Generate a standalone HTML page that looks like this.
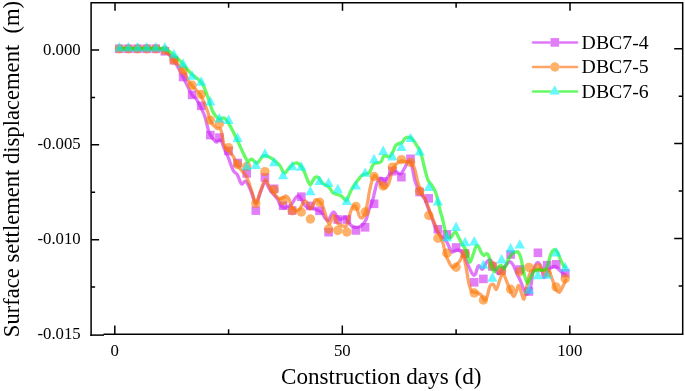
<!DOCTYPE html><html><head><meta charset="utf-8"><title>Surface settlement displacement</title><style>html,body{margin:0;padding:0;background:#fff}body{width:685px;height:391px;overflow:hidden;position:relative}</style></head><body><svg width="685" height="391" viewBox="0 0 685 391" style="position:absolute;left:0;top:0">
<path d="M119.4 49.0C121.2 49.0 125.7 49.0 130.0 49.0C134.3 49.0 140.3 49.0 145.0 49.0C149.7 49.0 154.7 48.7 158.0 49.0C161.3 49.3 162.3 49.1 165.0 51.0C167.7 52.9 171.0 56.2 174.0 60.5C177.0 64.8 180.0 71.2 183.0 77.0C186.0 82.8 189.8 91.4 192.0 95.0C194.2 98.6 194.0 95.4 196.1 98.7C198.2 102.0 202.1 109.2 204.3 115.0C206.5 120.8 207.5 129.0 209.4 133.4C211.3 137.8 214.1 140.4 215.6 141.6C217.1 142.8 217.8 140.8 218.7 140.6C219.6 140.4 220.0 139.0 221.1 140.7C222.2 142.4 224.0 148.2 225.2 150.9C226.4 153.7 226.8 153.9 228.1 157.2C229.4 160.5 231.7 167.6 233.2 170.5C234.7 173.4 235.9 172.4 237.3 174.6C238.7 176.8 240.0 182.7 241.4 183.8C242.8 185.0 244.3 180.1 246.0 181.5C247.7 182.9 249.8 188.2 251.4 192.0C253.1 195.8 254.4 204.2 255.9 204.2C257.4 204.2 258.9 195.7 260.5 192.0C262.1 188.3 263.7 182.3 265.3 182.0C266.9 181.7 268.0 187.2 270.0 190.0C272.0 192.8 275.8 196.6 277.5 199.0C279.2 201.4 278.9 203.0 280.0 204.5C281.1 206.0 282.6 207.4 283.9 207.8C285.2 208.2 286.4 207.3 287.7 206.7C289.0 206.1 290.4 205.4 291.6 204.1C292.8 202.8 293.8 200.3 294.8 199.0C295.8 197.7 296.5 196.2 297.5 196.0C298.5 195.8 299.6 196.3 300.6 197.7C301.7 199.0 302.7 202.5 303.8 204.1C304.9 205.7 305.8 206.6 307.0 207.3C308.2 208.0 309.5 207.9 310.8 208.2C312.1 208.5 313.4 208.7 314.7 209.1C316.0 209.5 317.2 209.9 318.5 210.6C319.8 211.3 321.3 212.1 322.4 213.3C323.5 214.6 324.0 216.9 325.0 218.1C326.0 219.3 327.1 221.2 328.2 220.6C329.3 220.0 330.4 215.8 331.4 214.4C332.4 213.0 333.1 211.8 334.0 212.0C334.9 212.2 335.6 214.5 336.5 215.7C337.4 216.9 338.6 219.0 339.7 219.4C340.8 219.8 341.9 218.7 342.9 218.3C343.9 217.9 344.6 216.6 345.5 217.2C346.4 217.8 347.0 220.6 348.1 222.1C349.2 223.6 350.4 225.1 351.9 226.0C353.4 226.9 355.4 227.5 357.1 227.3C358.8 227.1 360.7 226.2 362.2 224.9C363.7 223.6 365.0 221.8 366.1 219.5C367.2 217.2 367.5 214.1 368.6 210.9C369.7 207.7 371.4 204.8 372.7 200.3C374.0 195.8 375.3 187.7 376.7 184.0C378.1 180.3 379.4 178.6 380.8 178.2C382.2 177.8 383.4 182.0 384.9 181.3C386.4 180.6 388.3 175.7 390.0 174.0C391.7 172.3 393.5 171.2 395.2 171.2C396.9 171.2 398.8 174.4 400.3 174.0C401.8 173.6 403.1 170.6 404.4 168.5C405.7 166.4 406.8 162.2 408.0 161.5C409.2 160.8 410.3 161.2 411.5 164.5C412.7 167.8 413.6 176.3 415.0 181.0C416.4 185.7 418.4 189.5 420.0 192.5C421.6 195.5 423.2 196.2 424.7 199.0C426.1 201.8 427.3 205.7 428.7 209.4C430.1 213.1 431.7 217.8 433.0 221.3C434.3 224.8 435.4 228.1 436.6 230.5C437.9 232.9 438.8 233.7 440.5 235.5C442.2 237.3 444.7 238.9 446.6 241.6C448.5 244.3 449.8 250.4 451.7 251.8C453.6 253.2 456.1 249.5 457.9 249.8C459.7 250.1 461.0 251.0 462.7 253.4C464.4 255.8 466.2 261.1 467.8 264.5C469.4 267.9 471.2 272.4 472.5 274.0C473.8 275.6 474.3 275.8 475.3 274.4C476.3 273.0 477.2 266.6 478.4 265.8C479.6 265.0 481.0 269.9 482.4 269.3C483.8 268.7 485.1 263.8 486.5 262.3C487.9 260.8 489.2 259.1 490.7 260.3C492.1 261.5 493.9 267.1 495.2 269.3C496.5 271.6 497.4 273.6 498.5 273.8C499.6 274.0 500.3 272.2 501.7 270.6C503.1 269.0 505.4 265.6 506.8 264.1C508.2 262.6 508.9 261.5 510.0 261.6C511.1 261.8 512.0 262.9 513.2 265.0C514.4 267.1 515.8 271.2 517.1 274.0C518.4 276.8 519.7 279.0 520.9 281.8C522.1 284.6 523.2 288.6 524.3 290.6C525.4 292.7 526.3 294.6 527.3 294.1C528.3 293.6 529.5 291.4 530.5 287.7C531.5 284.0 531.9 276.2 533.0 272.0C534.1 267.8 535.9 263.4 537.3 262.6C538.6 261.8 540.0 264.6 541.1 267.1C542.2 269.6 542.9 276.3 543.7 277.4C544.6 278.5 545.1 275.0 546.2 273.5C547.3 272.0 548.6 269.6 550.1 268.4C551.6 267.2 553.7 266.3 555.2 266.5C556.7 266.7 557.8 268.5 559.1 269.7C560.4 270.9 561.9 272.6 563.0 273.5C564.1 274.4 565.1 274.6 565.5 274.8" fill="none" stroke="rgb(203,30,243)" stroke-width="3.3" stroke-linejoin="round" stroke-linecap="round" stroke-opacity="0.6"/><g fill="rgb(205,40,244)" fill-opacity="0.6"><rect x="115.0" y="44.5" width="8.6" height="8.6"/><rect x="124.1" y="44.5" width="8.6" height="8.6"/><rect x="133.2" y="44.5" width="8.6" height="8.6"/><rect x="142.3" y="44.5" width="8.6" height="8.6"/><rect x="151.4" y="44.5" width="8.6" height="8.6"/><rect x="160.5" y="47.0" width="8.6" height="8.6"/><rect x="169.6" y="55.9" width="8.6" height="8.6"/><rect x="178.8" y="72.7" width="8.6" height="8.6"/><rect x="187.8" y="90.6" width="8.6" height="8.6"/><rect x="196.9" y="101.5" width="8.6" height="8.6"/><rect x="206.0" y="130.8" width="8.6" height="8.6"/><rect x="215.1" y="133.3" width="8.6" height="8.6"/><rect x="224.2" y="146.7" width="8.6" height="8.6"/><rect x="233.3" y="158.7" width="8.6" height="8.6"/><rect x="242.4" y="169.1" width="8.6" height="8.6"/><rect x="251.5" y="206.3" width="8.6" height="8.6"/><rect x="260.6" y="173.2" width="8.6" height="8.6"/><rect x="269.8" y="184.5" width="8.6" height="8.6"/><rect x="278.8" y="201.4" width="8.6" height="8.6"/><rect x="287.9" y="206.2" width="8.6" height="8.6"/><rect x="297.0" y="192.4" width="8.6" height="8.6"/><rect x="306.1" y="201.6" width="8.6" height="8.6"/><rect x="315.2" y="206.5" width="8.6" height="8.6"/><rect x="324.3" y="227.9" width="8.6" height="8.6"/><rect x="333.4" y="215.2" width="8.6" height="8.6"/><rect x="342.5" y="215.2" width="8.6" height="8.6"/><rect x="351.6" y="226.1" width="8.6" height="8.6"/><rect x="360.8" y="223.0" width="8.6" height="8.6"/><rect x="369.8" y="199.5" width="8.6" height="8.6"/><rect x="378.9" y="177.1" width="8.6" height="8.6"/><rect x="388.1" y="166.9" width="8.6" height="8.6"/><rect x="397.1" y="172.9" width="8.6" height="8.6"/><rect x="406.2" y="154.5" width="8.6" height="8.6"/><rect x="415.3" y="187.7" width="8.6" height="8.6"/><rect x="424.4" y="194.1" width="8.6" height="8.6"/><rect x="433.6" y="225.0" width="8.6" height="8.6"/><rect x="442.6" y="230.1" width="8.6" height="8.6"/><rect x="451.8" y="243.2" width="8.6" height="8.6"/><rect x="460.8" y="249.2" width="8.6" height="8.6"/><rect x="469.9" y="278.0" width="8.6" height="8.6"/><rect x="479.1" y="274.6" width="8.6" height="8.6"/><rect x="488.1" y="262.2" width="8.6" height="8.6"/><rect x="497.2" y="266.2" width="8.6" height="8.6"/><rect x="506.3" y="250.2" width="8.6" height="8.6"/><rect x="515.5" y="265.2" width="8.6" height="8.6"/><rect x="524.6" y="287.2" width="8.6" height="8.6"/><rect x="533.6" y="248.5" width="8.6" height="8.6"/><rect x="542.8" y="260.9" width="8.6" height="8.6"/><rect x="551.9" y="260.0" width="8.6" height="8.6"/><rect x="561.0" y="268.9" width="8.6" height="8.6"/></g>
<path d="M119.4 49.0C121.2 49.0 125.7 49.0 130.0 49.0C134.3 49.0 140.3 49.0 145.0 49.0C149.7 49.0 154.7 48.8 158.0 49.0C161.3 49.2 162.4 48.7 165.0 50.5C167.6 52.3 170.8 56.8 173.8 60.0C176.8 63.2 180.1 66.1 182.8 70.0C185.5 73.9 187.1 79.2 190.0 83.3C192.9 87.4 197.3 90.0 200.2 94.6C203.1 99.2 205.7 106.5 207.4 110.9C209.1 115.3 209.0 118.3 210.5 121.2C212.0 124.1 214.9 126.9 216.6 128.3C218.3 129.7 219.5 126.8 220.7 129.4C221.9 132.0 222.8 140.5 223.8 143.7C224.8 146.9 225.2 146.7 226.8 148.8C228.4 150.9 231.4 153.3 233.2 156.1C234.9 158.9 235.1 162.0 237.3 165.4C239.5 168.8 243.9 172.3 246.3 176.6C248.7 180.8 250.0 186.5 251.6 190.9C253.2 195.3 254.4 203.2 255.9 203.2C257.4 203.2 259.0 194.8 260.6 190.9C262.2 187.0 263.7 180.2 265.3 179.7C266.9 179.2 268.1 185.0 270.0 187.9C271.9 190.8 275.3 195.2 277.0 197.0C278.7 198.8 279.0 198.7 280.0 198.8C281.0 198.9 282.1 198.2 283.2 197.7C284.3 197.2 285.4 195.8 286.4 196.0C287.4 196.2 288.1 197.2 289.0 199.0C289.9 200.8 290.5 204.6 291.6 206.5C292.7 208.4 294.1 210.1 295.4 210.6C296.7 211.1 298.1 210.4 299.3 209.3C300.5 208.2 301.5 205.5 302.5 204.1C303.5 202.7 304.2 201.1 305.1 201.0C306.0 200.9 306.8 202.2 307.6 203.5C308.5 204.8 309.3 208.8 310.2 209.1C311.1 209.4 311.9 206.9 312.8 205.4C313.7 203.9 314.4 200.6 315.3 199.8C316.2 199.1 317.3 200.0 318.5 200.9C319.7 201.8 321.3 203.4 322.4 205.4C323.5 207.4 324.0 210.2 325.0 213.1C326.0 216.0 327.3 220.9 328.2 222.6C329.1 224.3 329.4 224.1 330.1 223.2C330.9 222.3 331.9 218.2 332.7 217.0C333.4 215.8 334.0 215.1 334.6 215.9C335.2 216.8 335.6 220.6 336.5 222.1C337.4 223.6 338.4 224.0 339.7 224.7C341.0 225.4 343.0 226.3 344.2 226.4C345.4 226.5 345.9 226.9 346.8 225.1C347.7 223.3 348.5 218.5 349.4 215.7C350.3 212.8 351.1 209.7 352.0 208.0C352.9 206.3 353.6 205.4 354.5 205.6C355.4 205.8 356.2 207.4 357.1 209.3C358.0 211.2 358.7 215.5 359.7 216.8C360.7 218.2 361.9 218.2 362.9 217.4C363.8 216.6 364.6 214.2 365.4 211.8C366.2 209.4 366.8 206.6 367.5 203.0C368.2 199.4 368.6 195.0 369.6 190.5C370.6 186.0 372.2 177.8 373.7 176.1C375.2 174.4 377.2 178.6 378.8 180.5C380.4 182.4 381.8 186.9 383.4 187.5C385.0 188.1 387.0 187.0 388.5 184.0C390.0 181.0 391.3 172.8 392.6 169.5C393.9 166.2 394.8 165.4 396.2 164.0C397.6 162.6 399.6 161.2 401.3 160.9C403.0 160.6 404.7 161.7 406.4 162.0C408.1 162.3 410.0 161.4 411.4 162.7C412.8 164.0 413.9 166.6 415.0 170.0C416.1 173.4 416.9 179.2 418.0 183.0C419.1 186.8 420.2 190.2 421.5 193.0C422.8 195.8 424.2 197.0 425.6 200.1C427.0 203.2 428.5 208.2 429.7 211.4C430.9 214.6 431.6 215.9 433.0 219.3C434.4 222.7 436.6 228.3 438.2 232.0C439.8 235.7 441.3 237.9 442.5 241.6C443.7 245.3 444.5 250.8 445.5 254.0C446.5 257.2 447.3 258.8 448.5 261.0C449.7 263.2 451.0 267.2 452.8 267.3C454.6 267.4 457.6 263.5 459.3 261.6C461.0 259.7 462.0 255.4 463.1 256.0C464.2 256.6 464.7 260.8 465.7 265.4C466.7 270.0 467.9 279.1 468.9 283.4C469.9 287.7 470.3 289.6 471.5 291.1C472.7 292.6 474.4 291.8 476.0 292.4C477.6 293.0 479.7 293.6 481.1 295.0C482.5 296.4 483.5 300.2 484.5 300.5C485.5 300.8 486.1 299.3 487.0 297.0C487.9 294.7 488.8 288.6 489.8 286.5C490.9 284.4 492.2 283.8 493.3 284.3C494.4 284.8 495.3 290.1 496.4 289.3C497.5 288.6 498.7 282.4 499.8 279.8C500.9 277.2 502.0 273.6 503.2 274.0C504.4 274.4 505.6 279.1 506.9 282.0C508.2 284.9 509.7 288.9 510.8 291.3C511.9 293.7 512.9 296.5 513.8 296.5C514.7 296.5 515.5 293.3 516.3 291.5C517.1 289.7 517.9 285.1 518.8 285.5C519.7 285.9 520.8 291.6 521.7 293.9C522.6 296.1 523.2 300.0 524.0 299.0C524.8 298.0 525.6 291.9 526.6 287.7C527.6 283.5 528.6 276.5 529.8 273.6C531.0 270.7 532.2 271.1 533.7 270.4C535.2 269.6 537.1 269.1 538.8 269.1C540.5 269.1 542.3 270.0 544.0 270.4C545.7 270.8 547.6 269.8 549.1 271.6C550.6 273.4 551.9 278.4 553.0 281.3C554.1 284.2 554.4 287.2 555.5 289.0C556.6 290.8 558.1 292.7 559.4 292.2C560.7 291.7 562.1 287.8 563.2 285.8C564.3 283.8 565.4 281.0 565.8 280.0" fill="none" stroke="rgb(250,105,0)" stroke-width="3.3" stroke-linejoin="round" stroke-linecap="round" stroke-opacity="0.6"/><g fill="rgb(252,125,5)" fill-opacity="0.6"><circle cx="119.3" cy="48.8" r="4.7"/><circle cx="128.4" cy="48.8" r="4.7"/><circle cx="137.6" cy="48.8" r="4.7"/><circle cx="146.7" cy="48.8" r="4.7"/><circle cx="155.8" cy="48.8" r="4.7"/><circle cx="164.8" cy="50.3" r="4.7"/><circle cx="173.9" cy="60.3" r="4.7"/><circle cx="183.1" cy="70.5" r="4.7"/><circle cx="192.1" cy="85.2" r="4.7"/><circle cx="201.2" cy="94.5" r="4.7"/><circle cx="210.3" cy="120.1" r="4.7"/><circle cx="219.4" cy="123.8" r="4.7"/><circle cx="228.6" cy="147.7" r="4.7"/><circle cx="237.6" cy="164.5" r="4.7"/><circle cx="246.8" cy="166.5" r="4.7"/><circle cx="255.8" cy="203.5" r="4.7"/><circle cx="264.9" cy="171.6" r="4.7"/><circle cx="274.1" cy="189.8" r="4.7"/><circle cx="283.1" cy="200.5" r="4.7"/><circle cx="292.2" cy="210.8" r="4.7"/><circle cx="301.3" cy="212.0" r="4.7"/><circle cx="310.4" cy="219.0" r="4.7"/><circle cx="319.6" cy="202.2" r="4.7"/><circle cx="328.6" cy="229.0" r="4.7"/><circle cx="337.8" cy="230.5" r="4.7"/><circle cx="346.8" cy="232.0" r="4.7"/><circle cx="355.9" cy="206.4" r="4.7"/><circle cx="365.1" cy="212.0" r="4.7"/><circle cx="374.1" cy="176.5" r="4.7"/><circle cx="383.2" cy="186.0" r="4.7"/><circle cx="392.4" cy="167.1" r="4.7"/><circle cx="401.4" cy="159.6" r="4.7"/><circle cx="410.6" cy="162.4" r="4.7"/><circle cx="419.6" cy="191.0" r="4.7"/><circle cx="428.8" cy="215.5" r="4.7"/><circle cx="437.9" cy="238.3" r="4.7"/><circle cx="446.9" cy="253.3" r="4.7"/><circle cx="456.1" cy="267.3" r="4.7"/><circle cx="465.1" cy="253.9" r="4.7"/><circle cx="474.2" cy="293.0" r="4.7"/><circle cx="483.4" cy="300.0" r="4.7"/><circle cx="492.4" cy="265.6" r="4.7"/><circle cx="501.6" cy="271.0" r="4.7"/><circle cx="510.6" cy="289.3" r="4.7"/><circle cx="519.8" cy="271.8" r="4.7"/><circle cx="528.9" cy="267.4" r="4.7"/><circle cx="537.9" cy="267.9" r="4.7"/><circle cx="547.0" cy="273.0" r="4.7"/><circle cx="556.1" cy="287.0" r="4.7"/><circle cx="565.2" cy="278.7" r="4.7"/></g>
<path d="M119.4 48.5C121.2 48.5 125.7 48.5 130.0 48.5C134.3 48.5 140.0 48.5 145.0 48.5C150.0 48.5 156.4 48.4 160.0 48.5C163.6 48.6 164.0 48.2 166.4 49.4C168.8 50.6 171.9 53.2 174.6 55.6C177.3 58.0 180.1 60.8 182.8 63.8C185.5 66.8 188.3 70.8 191.0 73.5C193.7 76.2 197.0 78.0 199.1 80.1C201.2 82.2 201.9 82.9 203.5 86.0C205.1 89.1 206.9 94.5 208.4 98.7C209.9 102.9 210.8 107.6 212.5 110.9C214.2 114.2 216.7 117.3 218.7 118.5C220.7 119.7 222.6 116.9 224.5 118.2C226.4 119.5 228.2 122.7 230.4 126.4C232.6 130.2 235.3 136.1 237.5 140.7C239.7 145.3 242.0 150.6 243.7 154.0C245.4 157.4 246.3 160.3 247.7 161.2C249.0 162.0 250.2 158.8 251.8 159.1C253.4 159.4 255.1 163.7 257.0 163.2C258.9 162.7 261.1 157.0 263.1 156.0C265.1 155.0 267.1 156.2 269.2 157.1C271.2 158.0 273.6 159.8 275.4 161.2C277.2 162.6 278.8 164.2 280.0 165.8C281.2 167.4 281.8 169.8 282.6 171.0C283.5 172.2 284.0 173.4 285.1 172.9C286.2 172.4 287.7 169.4 289.0 168.0C290.3 166.6 291.5 165.1 292.8 164.3C294.1 163.5 295.4 162.8 296.7 163.0C298.0 163.2 299.3 164.1 300.6 165.6C301.9 167.1 303.2 169.6 304.4 172.0C305.6 174.4 306.6 178.0 307.6 180.2C308.6 182.4 309.3 184.9 310.2 185.0C311.1 185.1 311.9 182.1 312.8 180.8C313.7 179.5 314.4 177.7 315.3 177.2C316.2 176.7 317.3 176.8 318.5 177.8C319.7 178.8 321.1 181.9 322.4 183.2C323.7 184.4 324.9 184.4 326.2 185.3C327.5 186.2 329.0 187.2 330.1 188.5C331.2 189.8 331.8 191.8 332.9 192.8C334.0 193.8 335.1 193.8 336.5 194.3C337.9 194.8 339.6 195.0 341.0 195.8C342.4 196.6 343.6 198.6 344.6 199.3C345.6 200.0 345.9 201.3 346.8 200.2C347.7 199.1 348.9 194.9 350.0 192.6C351.1 190.3 351.8 188.8 353.2 186.6C354.6 184.4 356.9 181.4 358.4 179.5C359.9 177.6 360.8 176.1 362.2 175.2C363.6 174.2 365.3 174.3 366.5 173.8C367.7 173.3 368.4 173.8 369.6 172.2C370.8 170.6 371.8 165.7 373.7 164.0C375.6 162.3 379.1 163.4 380.8 162.0C382.5 160.6 382.5 156.7 383.9 155.8C385.3 154.9 387.4 157.6 389.0 156.8C390.6 156.0 392.3 152.7 393.4 150.8C394.5 148.9 394.7 146.8 395.5 145.6C396.3 144.4 397.3 144.3 398.4 143.7C399.5 143.1 401.2 143.0 402.2 142.2C403.2 141.4 403.7 139.6 404.5 138.8C405.3 138.0 405.8 137.5 406.8 137.3C407.8 137.1 409.6 137.0 410.7 137.6C411.8 138.2 412.7 139.4 413.7 140.7C414.7 142.0 415.8 143.8 416.8 145.6C417.8 147.3 419.0 149.1 419.9 151.2C420.8 153.3 421.4 155.0 422.2 158.0C423.0 161.0 423.8 165.3 424.8 169.0C425.8 172.7 426.8 177.2 428.0 180.0C429.2 182.8 430.8 183.5 432.0 185.5C433.2 187.5 434.5 189.4 435.5 192.0C436.5 194.6 437.2 197.9 438.0 201.2C438.8 204.5 439.7 209.0 440.5 212.0C441.3 215.0 441.9 216.1 442.6 219.0C443.3 221.9 444.1 226.3 444.9 229.3C445.7 232.3 446.5 235.6 447.5 237.0C448.5 238.4 449.4 238.5 450.7 237.6C452.0 236.7 453.9 231.9 455.2 231.8C456.5 231.7 457.2 234.8 458.4 237.0C459.6 239.2 461.0 242.5 462.3 244.7C463.6 246.9 465.1 247.9 466.0 250.0C466.9 252.1 467.3 255.5 468.0 257.5C468.7 259.5 469.3 262.6 470.2 262.0C471.1 261.4 472.4 256.5 473.4 253.9C474.4 251.3 475.1 247.7 476.0 246.5C476.9 245.3 477.7 245.6 478.5 246.5C479.3 247.4 480.1 250.5 481.0 252.0C481.9 253.5 482.8 255.2 483.7 255.5C484.6 255.8 485.8 253.6 486.7 253.7C487.6 253.8 488.1 254.3 488.8 256.0C489.5 257.7 490.0 261.5 490.9 264.1C491.8 266.7 492.9 271.3 494.0 271.8C495.1 272.3 496.5 268.2 497.8 267.2C499.1 266.1 500.6 265.3 501.7 265.5C502.8 265.7 503.5 269.4 504.5 268.6C505.5 267.8 506.5 263.1 507.7 260.7C508.9 258.3 510.4 255.7 511.6 254.3C512.8 252.9 513.9 252.7 515.0 252.3C516.1 251.9 517.0 251.0 518.0 252.0C519.0 253.0 520.0 254.9 521.0 258.5C522.0 262.1 522.9 269.2 524.0 273.3C525.1 277.4 526.4 282.3 527.5 283.0C528.6 283.7 529.7 279.3 530.8 277.4C531.9 275.5 532.7 272.9 534.0 271.6C535.3 270.3 536.9 269.9 538.5 269.7C540.1 269.5 542.2 270.9 543.7 270.3C545.2 269.7 546.3 268.5 547.5 265.8C548.7 263.1 549.6 257.0 550.7 254.3C551.8 251.6 552.9 250.2 554.0 249.8C555.1 249.4 556.1 250.1 557.2 251.7C558.3 253.3 559.3 257.0 560.4 259.4C561.5 261.8 562.8 264.5 563.6 265.8C564.4 267.1 565.0 266.8 565.3 267.0" fill="none" stroke="rgb(0,246,0)" stroke-width="3.3" stroke-linejoin="round" stroke-linecap="round" stroke-opacity="0.6"/><g fill="rgb(0,242,255)" fill-opacity="0.6"><path d="M119.3 42.1 l5.1 9.4 h-10.2z"/><path d="M128.4 42.1 l5.1 9.4 h-10.2z"/><path d="M137.6 42.1 l5.1 9.4 h-10.2z"/><path d="M146.7 42.1 l5.1 9.4 h-10.2z"/><path d="M155.8 42.1 l5.1 9.4 h-10.2z"/><path d="M164.8 42.1 l5.1 9.4 h-10.2z"/><path d="M173.9 48.9 l5.1 9.4 h-10.2z"/><path d="M183.1 58.3 l5.1 9.4 h-10.2z"/><path d="M192.1 70.3 l5.1 9.4 h-10.2z"/><path d="M201.2 76.3 l5.1 9.4 h-10.2z"/><path d="M210.3 96.0 l5.1 9.4 h-10.2z"/><path d="M219.4 113.0 l5.1 9.4 h-10.2z"/><path d="M228.6 114.6 l5.1 9.4 h-10.2z"/><path d="M237.6 132.7 l5.1 9.4 h-10.2z"/><path d="M246.8 160.8 l5.1 9.4 h-10.2z"/><path d="M255.8 159.6 l5.1 9.4 h-10.2z"/><path d="M264.9 148.3 l5.1 9.4 h-10.2z"/><path d="M274.1 156.9 l5.1 9.4 h-10.2z"/><path d="M283.1 169.9 l5.1 9.4 h-10.2z"/><path d="M292.2 160.8 l5.1 9.4 h-10.2z"/><path d="M301.3 161.3 l5.1 9.4 h-10.2z"/><path d="M310.4 185.9 l5.1 9.4 h-10.2z"/><path d="M319.6 175.6 l5.1 9.4 h-10.2z"/><path d="M328.6 177.6 l5.1 9.4 h-10.2z"/><path d="M337.8 183.8 l5.1 9.4 h-10.2z"/><path d="M346.8 195.5 l5.1 9.4 h-10.2z"/><path d="M355.9 180.2 l5.1 9.4 h-10.2z"/><path d="M365.1 167.4 l5.1 9.4 h-10.2z"/><path d="M374.1 153.8 l5.1 9.4 h-10.2z"/><path d="M383.2 145.6 l5.1 9.4 h-10.2z"/><path d="M392.4 151.1 l5.1 9.4 h-10.2z"/><path d="M401.4 141.5 l5.1 9.4 h-10.2z"/><path d="M410.6 132.7 l5.1 9.4 h-10.2z"/><path d="M419.6 146.1 l5.1 9.4 h-10.2z"/><path d="M428.8 181.6 l5.1 9.4 h-10.2z"/><path d="M437.9 196.1 l5.1 9.4 h-10.2z"/><path d="M446.9 231.8 l5.1 9.4 h-10.2z"/><path d="M456.1 221.5 l5.1 9.4 h-10.2z"/><path d="M465.1 236.8 l5.1 9.4 h-10.2z"/><path d="M474.2 236.0 l5.1 9.4 h-10.2z"/><path d="M483.4 259.4 l5.1 9.4 h-10.2z"/><path d="M492.4 272.3 l5.1 9.4 h-10.2z"/><path d="M501.6 254.1 l5.1 9.4 h-10.2z"/><path d="M510.6 243.1 l5.1 9.4 h-10.2z"/><path d="M519.8 239.2 l5.1 9.4 h-10.2z"/><path d="M528.9 284.3 l5.1 9.4 h-10.2z"/><path d="M537.9 269.8 l5.1 9.4 h-10.2z"/><path d="M547.0 269.3 l5.1 9.4 h-10.2z"/><path d="M556.1 247.0 l5.1 9.4 h-10.2z"/><path d="M565.2 262.0 l5.1 9.4 h-10.2z"/></g>
<path d="M533 42.4 H577" stroke="rgb(203,30,243)" stroke-width="2.5" stroke-linecap="round" stroke-opacity="0.6" fill="none"/><rect x="550.5" y="38.1" width="8.6" height="8.6" fill="#fff"/><rect x="550.5" y="38.1" width="8.6" height="8.6" fill="rgb(205,40,244)" fill-opacity="0.6"/>
<path d="M533 67.0 H577" stroke="rgb(250,105,0)" stroke-width="2.5" stroke-linecap="round" stroke-opacity="0.6" fill="none"/><circle cx="554.8" cy="67.0" r="4.7" fill="#fff"/><circle cx="554.8" cy="67.0" r="4.7" fill="rgb(252,125,5)" fill-opacity="0.6"/>
<path d="M533 91.5 H577" stroke="rgb(0,246,0)" stroke-width="2.5" stroke-linecap="round" stroke-opacity="0.6" fill="none"/><path d="M554.7 85.2 l5.1 9.4 h-10.2z" fill="#fff"/><path d="M554.7 85.2 l5.1 9.4 h-10.2z" fill="rgb(0,242,255)" fill-opacity="0.6"/>
<g stroke="#000" stroke-width="1.5" fill="none" stroke-linecap="butt"><path d="M91.1 335.9 V2.7 H682.7 V335.0 M103.5 334.2 H683.5"/><path d="M90.3 335.1 H104"/><path d="M91.1 50.0 h8M682.7 48.8 h-8.5"/><path d="M91.1 144.8 h8M682.7 143.6 h-8.5"/><path d="M91.1 239.7 h8M682.7 238.5 h-8.5"/><path d="M91.1 97.4 h4M682.7 96.2 h-4"/><path d="M91.1 192.2 h4M682.7 191.0 h-4"/><path d="M91.1 287.1 h4M682.7 285.9 h-4"/><path d="M114.8 334.2 v-8.8M115.0 2.7 v8"/><path d="M342.3 334.2 v-8.8M342.5 2.7 v8"/><path d="M569.8 334.2 v-8.8M570.0 2.7 v8"/><path d="M228.6 334.2 v-5M228.6 2.7 v5"/><path d="M456.1 334.2 v-5M456.1 2.7 v5"/></g>
<g font-family="'Liberation Serif',serif" fill="#000"><text transform="translate(80.7 54.5) scale(1.035 1)" font-size="16.2" text-anchor="end">0.000</text><text transform="translate(80.7 149.3) scale(1.035 1)" font-size="16.2" text-anchor="end">-0.005</text><text transform="translate(80.7 244.2) scale(1.035 1)" font-size="16.2" text-anchor="end">-0.010</text><text transform="translate(80.7 339.0) scale(1.035 1)" font-size="16.2" text-anchor="end">-0.015</text><text transform="translate(114.8 356.2) scale(1.035 1)" font-size="16.2" text-anchor="middle">0</text><text transform="translate(342.3 356.2) scale(1.035 1)" font-size="16.2" text-anchor="middle">50</text><text transform="translate(569.8 356.2) scale(1.035 1)" font-size="16.2" text-anchor="middle">100</text><text transform="translate(581.6 48.7) scale(1.025 1)" font-size="19.3">DBC7-4</text><text transform="translate(581.6 73.1) scale(1.025 1)" font-size="19.3">DBC7-5</text><text transform="translate(581.6 97.5) scale(1.025 1)" font-size="19.3">DBC7-6</text><text transform="translate(381.2 384.2) scale(1.015 1)" font-size="22.8" text-anchor="middle">Construction days (d)</text><text transform="translate(18.6 169) rotate(-90)" font-size="22.6" text-anchor="middle" xml:space="preserve" style="white-space:pre">Surface settlement displacement  (m)</text></g>
</svg></body></html>
